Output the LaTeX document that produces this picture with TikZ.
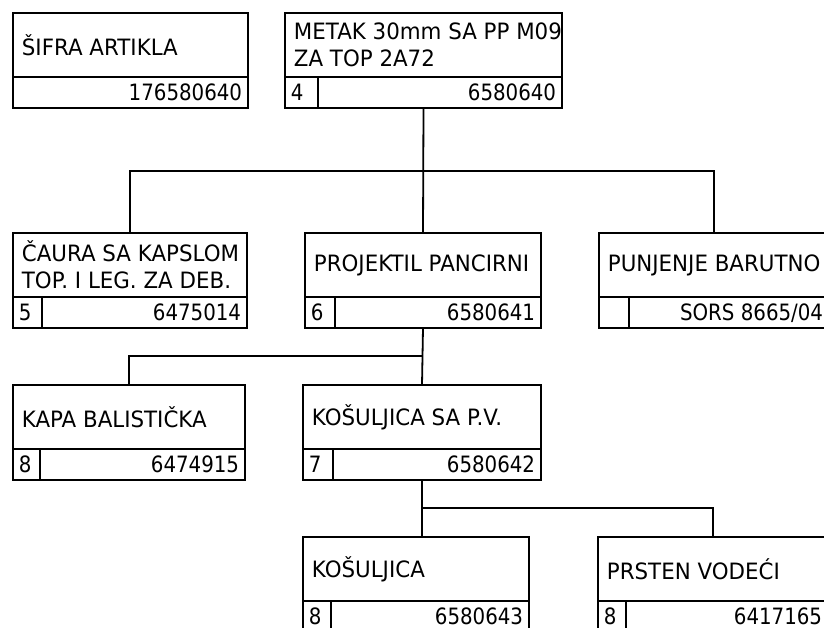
\documentclass[tikz,border=0pt]{standalone}
\usepackage{fontspec}
\setmainfont[FakeStretch=0.95]{DejaVu Sans}
\newfontfamily\numfont[FakeStretch=0.88]{DejaVu Sans}
\newcommand\partbox[8]{%
  \node[boxbody, minimum width=#4pt] (#1) at (#2,#3) {};
  \draw ([yshift=-64pt]#1.north west) -- ([yshift=-64pt]#1.north east);
  \draw ([xshift=#5pt, yshift=-64pt]#1.north west) -- ([xshift=#5pt]#1.south west);
  \node[txt] (#1-t) at ([xshift=8pt, yshift=-32pt]#1.north west) {#6};
  \node[idx] (#1-i) at ([xshift=5pt, yshift=-87pt]#1.north west) {#7};
  \node[num] (#1-n) at ([xshift=-5pt, yshift=-87pt]#1.north east) {#8};
}
\begin{document}
\begin{tikzpicture}[x=1pt, y=-1pt, line width=1.8pt,
  boxbody/.style={draw, anchor=north west, inner sep=0pt, outer sep=0pt, minimum height=95pt},
  txt/.style={font=\fontsize{22.5}{24}\selectfont, inner sep=0pt, align=left, anchor=west},
  num/.style={font=\numfont\fontsize{22.5}{22}\selectfont, inner sep=0pt, anchor=base east},
  idx/.style={font=\numfont\fontsize{22.5}{22}\selectfont, inner sep=0pt, anchor=base west},
  conn/.style={draw, line width=1.8pt}]
\path[use as bounding box, clip] (0,0) rectangle (824,627);
\fill[white] (0,0) rectangle (824,627);

\partbox{sifra}{13}{13}{235}{0}{ŠIFRA ARTIKLA}{}{176580640}
\partbox{metak}{285}{13}{277}{33}{METAK 30mm SA PP M09\\[3pt]ZA TOP 2A72}{4}{6580640}
\partbox{caura}{13}{233}{234}{29}{ČAURA SA KAPSLOM\\[3pt]TOP. I LEG. ZA DEB.}{5}{6475014}
\partbox{proj}{305}{233}{236}{30}{PROJEKTIL PANCIRNI}{6}{6580641}
\partbox{punj}{599}{233}{230}{30}{PUNJENJE BARUTNO}{}{SORS 8665/04}
\partbox{kapa}{13}{385}{232}{27}{KAPA BALISTIČKA}{8}{6474915}
\partbox{kospv}{303}{385}{238}{30}{KOŠULJICA SA P.V.}{7}{6580642}
\partbox{kos}{303}{537}{226}{28}{KOŠULJICA}{8}{6580643}
\partbox{prsten}{598}{537}{230}{28}{PRSTEN VODEĆI}{8}{6417165}

% connectors
\coordinate (j1) at (metak.south |- 0,171);
\coordinate (j2) at (proj.south |- 0,356);
\coordinate (j3) at (kospv.south |- 0,508);
\draw[conn] (metak.south) -- (proj.north);
\draw[conn] (caura.north) |- (j1) -| (punj.north);
\draw[conn] (proj.south) -- (kospv.north);
\draw[conn] (kapa.north) |- (j2);
\draw[conn] (kospv.south) -- (kospv.south |- kos.north);
\draw[conn] (j3) -| (prsten.north);
\end{tikzpicture}
\end{document}
